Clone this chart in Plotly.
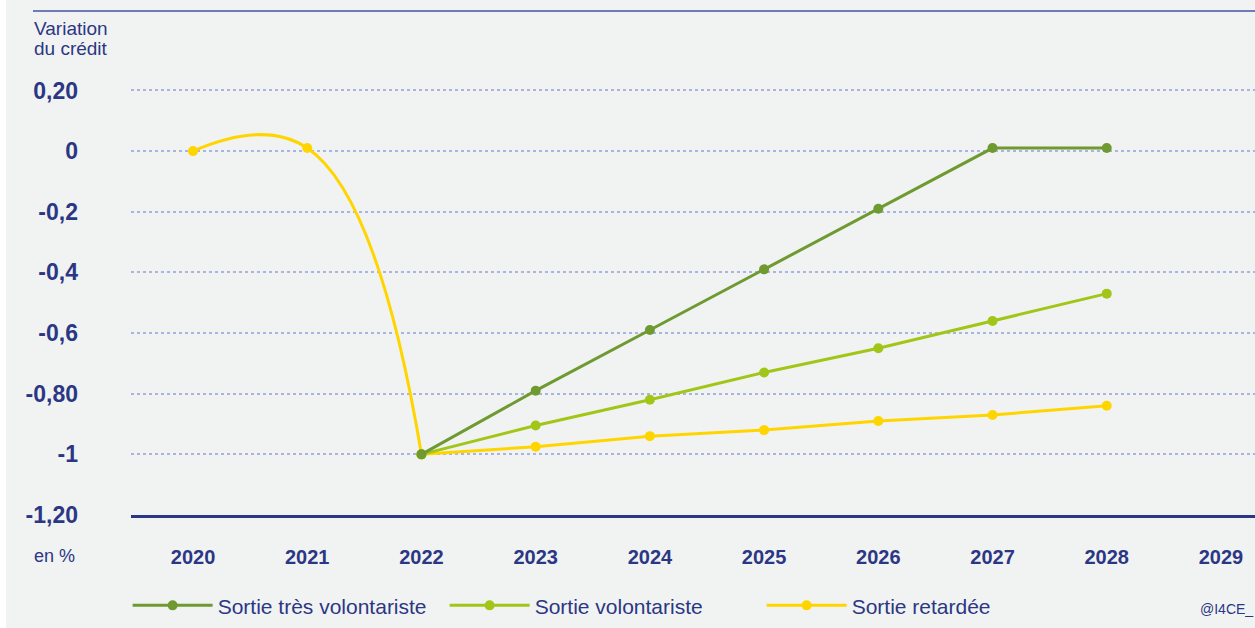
import plotly.graph_objects as go

years = [2020, 2021, 2022, 2023, 2024, 2025, 2026, 2027, 2028]
tres_volontariste = [None, None, -1.0, -0.79, -0.59, -0.39, -0.19, 0.01, 0.01]
volontariste = [None, None, -1.0, -0.905, -0.82, -0.73, -0.65, -0.56, -0.47]
retardee = [0.0, 0.01, -1.0, -0.975, -0.94, -0.92, -0.89, -0.87, -0.84]

x_ticks = [2020, 2021, 2022, 2023, 2024, 2025, 2026, 2027, 2028, 2029]
y_ticks = [0.2, 0, -0.2, -0.4, -0.6, -0.8, -1, -1.2]
y_tick_labels = ["0,20", "0", "-0,2", "-0,4", "-0,6", "-0,80", "-1", "-1,20"]

NAVY = "#2B3784"
DARK_GREEN = "#6E9A30"
LIGHT_GREEN = "#A2C617"
YELLOW = "#FFD500"
BG = "#F1F3F2"
FONT = "Liberation Sans, Arial, sans-serif"

fig = go.Figure()

def xs_ys(vals):
    pts = [(x, v) for x, v in zip(years, vals) if v is not None]
    return [p[0] for p in pts], [p[1] for p in pts]

# Sortie retardée: curved part then linear part
fig.add_trace(go.Scatter(x=years[:3], y=retardee[:3], mode="lines+markers", name="Sortie retardée",
                         legendgroup="ret", showlegend=False,
                         line=dict(color=YELLOW, width=3, shape="spline", smoothing=1.3),
                         marker=dict(size=10, color=YELLOW)))
fig.add_trace(go.Scatter(x=years[2:], y=retardee[2:], mode="lines+markers", name="Sortie retardée",
                         legendgroup="ret",
                         line=dict(color=YELLOW, width=3),
                         marker=dict(size=10, color=YELLOW)))
# Sortie volontariste
x, y = xs_ys(volontariste)
fig.add_trace(go.Scatter(x=x, y=y, mode="lines+markers", name="Sortie volontariste",
                         line=dict(color=LIGHT_GREEN, width=3),
                         marker=dict(size=10, color=LIGHT_GREEN)))
# Sortie très volontariste
x, y = xs_ys(tres_volontariste)
fig.add_trace(go.Scatter(x=x, y=y, mode="lines+markers", name="Sortie très volontariste",
                         line=dict(color=DARK_GREEN, width=3),
                         marker=dict(size=10, color=DARK_GREEN)))

fig.update_layout(
    width=1255, height=628,
    paper_bgcolor=BG, plot_bgcolor=BG,
    margin=dict(l=131, r=0, t=11, b=113),
    font=dict(family=FONT, color=NAVY),
    showlegend=True,
    legend=dict(orientation="h", x=-0.003, xanchor="left", y=-0.18, yanchor="middle",
                font=dict(size=21, color=NAVY), itemwidth=80, traceorder="reversed",
                entrywidth=222, entrywidthmode="pixels",
                bgcolor="rgba(0,0,0,0)", tracegroupgap=0),
    xaxis=dict(range=[2019.457, 2029.298], tickmode="array", tickvals=x_ticks,
               ticktext=[str(t) for t in x_ticks],
               tickfont=dict(size=20, family=FONT, color=NAVY, weight="bold"),
               showgrid=False, zeroline=False, showline=True, linecolor=NAVY, linewidth=3,
               ticks="", ticklabelstandoff=22),
    yaxis=dict(range=[-1.2, 0.462], tickmode="array", tickvals=y_ticks, ticktext=y_tick_labels,
               tickfont=dict(size=23, family=FONT, color=NAVY, weight="bold"),
               showgrid=True, gridcolor="#A9B4E2", gridwidth=2, griddash="dot",
               zeroline=False, showline=False, ticks="", ticklabelstandoff=52),
    shapes=[dict(type="line", xref="paper", yref="paper", x0=-0.0872, x1=1, y0=1, y1=1,
                 line=dict(color="#6E7BBA", width=2)),
            dict(type="rect", xref="paper", yref="paper", x0=-0.1166, x1=-0.1112, y0=-0.3, y1=1.1,
                 fillcolor="white", line=dict(width=0), layer="below")],
    annotations=[
        dict(text="Variation", xref="paper", yref="paper", x=-0.0885, y=(515 - 29) / 504,
             xanchor="left", yanchor="middle", showarrow=False, align="left",
             font=dict(size=19, color=NAVY)),
        dict(text="du crédit", xref="paper", yref="paper", x=-0.0885, y=(515 - 49) / 504,
             xanchor="left", yanchor="middle", showarrow=False, align="left",
             font=dict(size=19, color=NAVY)),
        dict(text="en %", xref="paper", yref="paper", x=-0.0885, y=(515 - 556) / 504,
             xanchor="left", yanchor="middle", showarrow=False,
             font=dict(size=18, color=NAVY)),
        dict(text="@I4CE_", xref="paper", yref="paper", x=1.0, y=(515 - 609) / 504,
             xanchor="right", yanchor="middle", showarrow=False,
             font=dict(size=14, color=NAVY)),
    ],
)

fig.write_html("out.html")
